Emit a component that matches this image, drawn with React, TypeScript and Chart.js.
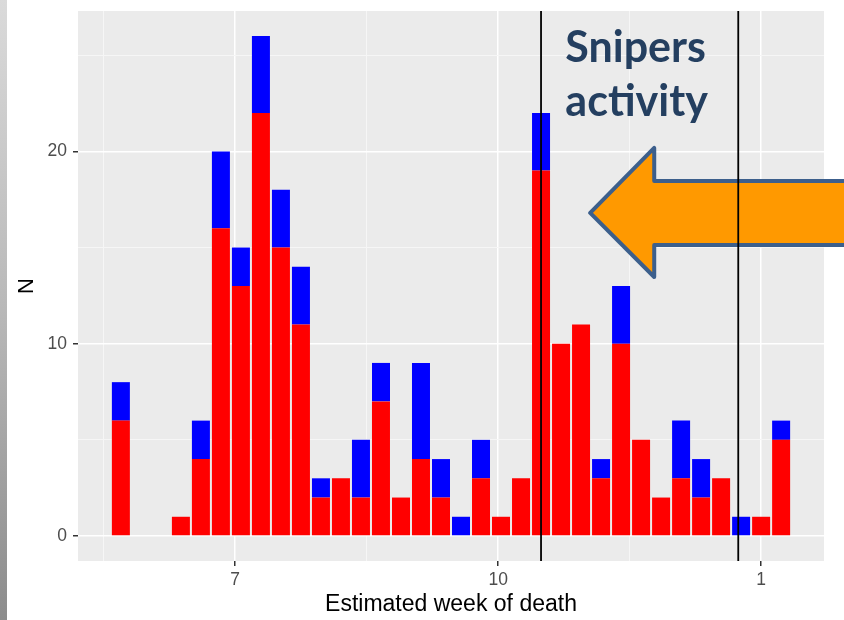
import React, { useEffect, useRef } from 'react';
import { Chart, registerables } from 'chart.js';

Chart.register(...registerables);

// ---- data ----
const weekStarts = [
  '2016-05-22', '2016-05-29', '2016-06-05', '2016-06-12', '2016-06-19', '2016-06-26',
  '2016-07-03', '2016-07-10', '2016-07-17', '2016-07-24', '2016-07-31', '2016-08-07',
  '2016-08-14', '2016-08-21', '2016-08-28', '2016-09-04', '2016-09-11', '2016-09-18',
  '2016-09-25', '2016-10-02', '2016-10-09', '2016-10-16', '2016-10-23', '2016-10-30',
  '2016-11-06', '2016-11-13', '2016-11-20', '2016-11-27', '2016-12-04', '2016-12-11',
  '2016-12-18', '2016-12-25', '2017-01-01', '2017-01-08',
];
const redCounts = [6, 0, 0, 1, 4, 16, 13, 22, 15, 11, 2, 3, 2, 7, 2, 4, 2, 0, 3, 1, 3, 19, 10, 11, 3, 10, 5, 2, 3, 2, 3, 0, 1, 5];
const blueCounts = [2, 0, 0, 0, 2, 4, 2, 4, 3, 3, 1, 0, 3, 2, 0, 5, 2, 1, 2, 0, 0, 3, 0, 0, 1, 3, 0, 0, 3, 2, 0, 1, 0, 1];

const xMajorBreaks = ['2016-07-01', '2016-10-01', '2017-01-01'];
const xMajorLabels = ['7', '10', '1'];
const xMinorBreaks = ['2016-05-16', '2016-08-16', '2016-11-16'];
const xRange = ['2016-05-07', '2017-01-23'];

const yMajorBreaks = [0, 10, 20];
const yMinorBreaks = [5, 15, 25];
const yRange = [-1.3, 27.3];

const markerDates = ['2016-10-16', '2016-12-24'];

const xTitle = 'Estimated week of death';
const yTitle = 'N';
const noteLines = ['Snipers', 'activity'];

// annotation geometry in data units (days from origin, N)
const noteAnchor = { x: 115.5, y: [24.65, 21.84] };
const arrowGeom = { tipX: 124.2, tipY: 16.8, headX: 146.6, headTop: 20.18, headBot: 13.47, shaftTop: 18.46, shaftBot: 15.13, endX: 218 };

const ORIGIN = Date.parse('2016-07-01');
const toDay = (d: string) => Math.round((Date.parse(d) - ORIGIN) / 86400000);

export default function App() {
  const ref = useRef<HTMLCanvasElement | null>(null);

  useEffect(() => {
    if (!ref.current) return;
    const days = weekStarts.map(toDay);
    const majorX = xMajorBreaks.map(toDay);
    const minorX = xMinorBreaks.map(toDay);
    const allX = [...minorX, ...majorX].sort((a, b) => a - b);
    const allY = [...yMajorBreaks, ...yMinorBreaks].sort((a, b) => a - b);
    const isMajorX = (v: number) => majorX.some((m) => Math.abs(m - v) < 0.01);
    const isMajorY = (v: number) => yMajorBreaks.some((m) => Math.abs(m - v) < 0.01);

    const annot = {
      id: 'annot',
      afterDatasetsDraw(chart: any) {
        const { ctx, chartArea, scales } = chart;
        const sx = scales.x;
        const sy = scales.y;
        const X = (v: number) => sx.getPixelForValue(v);
        const Y = (v: number) => sy.getPixelForValue(v);
        const a = arrowGeom;
        ctx.save();
        // arrow
        ctx.beginPath();
        ctx.moveTo(X(a.tipX), Y(a.tipY));
        ctx.lineTo(X(a.headX), Y(a.headTop));
        ctx.lineTo(X(a.headX), Y(a.shaftTop));
        ctx.lineTo(X(a.endX), Y(a.shaftTop));
        ctx.lineTo(X(a.endX), Y(a.shaftBot));
        ctx.lineTo(X(a.headX), Y(a.shaftBot));
        ctx.lineTo(X(a.headX), Y(a.headBot));
        ctx.closePath();
        ctx.fillStyle = '#FF9900';
        ctx.fill();
        ctx.lineWidth = 4;
        ctx.lineJoin = 'round';
        ctx.strokeStyle = '#3C5F8C';
        ctx.stroke();
        // vertical marker lines
        ctx.strokeStyle = '#000000';
        ctx.lineWidth = 1.8;
        markerDates.forEach((d) => {
          const px = X(toDay(d));
          ctx.beginPath();
          ctx.moveTo(px, chartArea.top);
          ctx.lineTo(px, chartArea.bottom);
          ctx.stroke();
        });
        // note text
        ctx.fillStyle = '#243F60';
        ctx.font = 'bold 43px Lato';
        ctx.textAlign = 'left';
        ctx.textBaseline = 'alphabetic';
        noteLines.forEach((t, i) => {
          ctx.fillText(t, X(noteAnchor.x), Y(noteAnchor.y[i]));
        });
        ctx.restore();
      },
    };

    const chart = new Chart(ref.current, {
      type: 'bar',
      data: {
        datasets: [
          {
            label: 'red',
            data: days.map((x, i) => ({ x, y: redCounts[i] })),
            backgroundColor: '#FF0000',
            borderWidth: 0,
            barPercentage: 0.9,
            categoryPercentage: 1,
          },
          {
            label: 'blue',
            data: days.map((x, i) => ({ x, y: blueCounts[i] })),
            backgroundColor: '#0000FF',
            borderWidth: 0,
            barPercentage: 0.9,
            categoryPercentage: 1,
          },
        ],
      },
      options: {
        animation: false,
        responsive: false,
        events: [],
        layout: { padding: { left: 0, right: 20, top: 11, bottom: 0 } },
        plugins: { legend: { display: false }, tooltip: { enabled: false } },
        scales: {
          x: {
            type: 'linear',
            min: toDay(xRange[0]),
            max: toDay(xRange[1]),
            stacked: true,
            offset: false,
            afterBuildTicks: (s: any) => {
              s.ticks = allX.map((v) => ({ value: v }));
            },
            afterFit: (s: any) => {
              s.height = 59;
              s.paddingLeft = 0;
              s.paddingRight = 0;
            },
            border: { display: false },
            grid: {
              offset: false,
              color: (c: any) => (isMajorX(c.tick.value) ? '#FFFFFF' : '#F6F6F6'),
              lineWidth: (c: any) => (isMajorX(c.tick.value) ? 1.5 : 1),
              tickColor: (c: any) => (isMajorX(c.tick.value) ? '#333333' : 'rgba(0,0,0,0)'),
              tickLength: 5,
              tickWidth: 1.5,
            },
            ticks: {
              autoSkip: false,
              maxRotation: 0,
              padding: 4,
              color: '#4D4D4D',
              font: { family: 'Liberation Sans', size: 17.5 },
              callback: (v: any) => {
                const idx = majorX.findIndex((m) => Math.abs(m - v) < 0.01);
                return idx >= 0 ? xMajorLabels[idx] : '';
              },
            },
            title: {
              display: true,
              text: xTitle,
              color: '#000000',
              font: { family: 'Liberation Sans', size: 23 },
              padding: { top: 0, bottom: 1.2 },
            },
          },
          y: {
            type: 'linear',
            min: yRange[0],
            max: yRange[1],
            stacked: true,
            afterBuildTicks: (s: any) => {
              s.ticks = allY.map((v) => ({ value: v }));
            },
            afterFit: (s: any) => {
              s.width = 78;
              s.paddingTop = 0;
              s.paddingBottom = 0;
            },
            border: { display: false },
            grid: {
              color: (c: any) => (isMajorY(c.tick.value) ? '#FFFFFF' : '#F6F6F6'),
              lineWidth: (c: any) => (isMajorY(c.tick.value) ? 1.5 : 1),
              tickColor: (c: any) => (isMajorY(c.tick.value) ? '#333333' : 'rgba(0,0,0,0)'),
              tickLength: 5,
              tickWidth: 1.5,
            },
            ticks: {
              autoSkip: false,
              padding: 6,
              color: '#4D4D4D',
              font: { family: 'Liberation Sans', size: 17.5 },
              callback: (v: any) => (isMajorY(v) ? String(v) : ''),
            },
            title: {
              display: true,
              text: yTitle,
              color: '#000000',
              font: { family: 'Liberation Sans', size: 22 },
              padding: { top: 13.5, bottom: 0 },
            },
          },
        },
      },
      plugins: [
        {
          id: 'panelBg',
          beforeDraw(chart: any) {
            const { ctx, chartArea } = chart;
            ctx.save();
            ctx.fillStyle = '#EBEBEB';
            ctx.fillRect(chartArea.left, chartArea.top, chartArea.right - chartArea.left, chartArea.bottom - chartArea.top);
            ctx.restore();
          },
        },
        annot,
      ],
    } as any);
    return () => chart.destroy();
  }, []);

  return (
    <div style={{ position: 'fixed', left: 0, top: 0, width: 844, height: 620, background: '#FFFFFF', overflow: 'hidden' }}>
      <canvas ref={ref} width={844} height={620} style={{ width: 844, height: 620, display: 'block' }} />
      <div
        style={{
          position: 'absolute',
          left: 0,
          top: 0,
          width: 7,
          height: 620,
          background: 'linear-gradient(to bottom, #DADADA, #B8B8B8 50%, #8C8C8C)',
        }}
      />
    </div>
  );
}
